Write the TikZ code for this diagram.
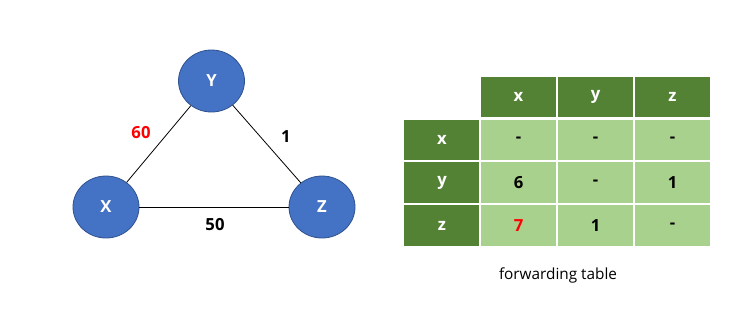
\documentclass[tikz,border=0pt]{standalone}
\usepackage{fontspec}
\setmainfont{Open Sans}
\usetikzlibrary{shapes.geometric}

\definecolor{nodeblue}{HTML}{4472C4}
\definecolor{nodeedge}{HTML}{2F528F}
\definecolor{darkgreen}{HTML}{548235}
\definecolor{lightgreen}{HTML}{A9D18E}

\tikzset{
  router/.style={ellipse, fill=nodeblue, draw=nodeedge, line width=0.6pt,
    minimum width=49.5pt, minimum height=46.5pt, inner sep=0pt,
    text=white, font=\fontsize{12.5}{14}\selectfont\bfseries},
  cost/.style={font=\fontsize{12.5}{14}\selectfont\bfseries},
  cell/.style={rectangle, draw=white, line width=0.8pt,
    minimum width=57.75pt, minimum height=31.5pt, inner sep=0pt,
    font=\fontsize{12.5}{14}\selectfont\bfseries},
  head/.style={cell, fill=darkgreen, text=white},
  body/.style={cell, fill=lightgreen}
}

\begin{document}
\begin{tikzpicture}[x=0.75pt, y=-0.75pt]
    % Lienzo
    \useasboundingbox (0,0) rectangle (737,312);

    % Nodos de la red
    \node[router] (Y) at (211.5, 81) {Y};
    \node[router] (X) at (106, 207) {X};
    \node[router] (Z) at (322, 207) {Z};

    % Enlaces
    \draw[line width=0.6pt] (X) -- (Y);
    \draw[line width=0.6pt] (Y) -- (Z);
    \draw[line width=0.6pt] (X) -- (Z);

    % Costes de los enlaces
    \node[cost, text=red] (c60) at (141, 133) {60};
    \node[cost] (c1) at (286, 137) {1};
    \node[cost] (c50) at (215, 225) {50};

    % Cabecera de la tabla
    \node[head] (hx) at (518.5, 97) {x};
    \node[head] (hy) at (595.5, 97) {y};
    \node[head] (hz) at (672.5, 97) {z};

    % Fila x
    \node[head] (rx) at (442, 140) {x};
    \node[body] (xx) at (518.5, 140) {-};
    \node[body] (xy) at (595.5, 140) {-};
    \node[body] (xz) at (672.5, 140) {-};

    % Fila y
    \node[head] (ry) at (442, 182.5) {y};
    \node[body] (yx) at (518.5, 182.5) {6};
    \node[body] (yy) at (595.5, 182.5) {-};
    \node[body] (yz) at (672.5, 182.5) {1};

    % Fila z
    \node[head] (rz) at (442, 225.5) {z};
    \node[body, text=red] (zx) at (518.5, 225.5) {7};
    \node[body] (zy) at (595.5, 225.5) {1};
    \node[body] (zz) at (672.5, 225.5) {-};

    % Separacion bajo la cabecera
    \draw[white, line width=1.5pt] (hx.south west) -- (hz.south east);

    % Titulo
    \node[font=\fontsize{11.5}{13}\selectfont] (title) at (558, 275) {forwarding table};
\end{tikzpicture}
\end{document}
